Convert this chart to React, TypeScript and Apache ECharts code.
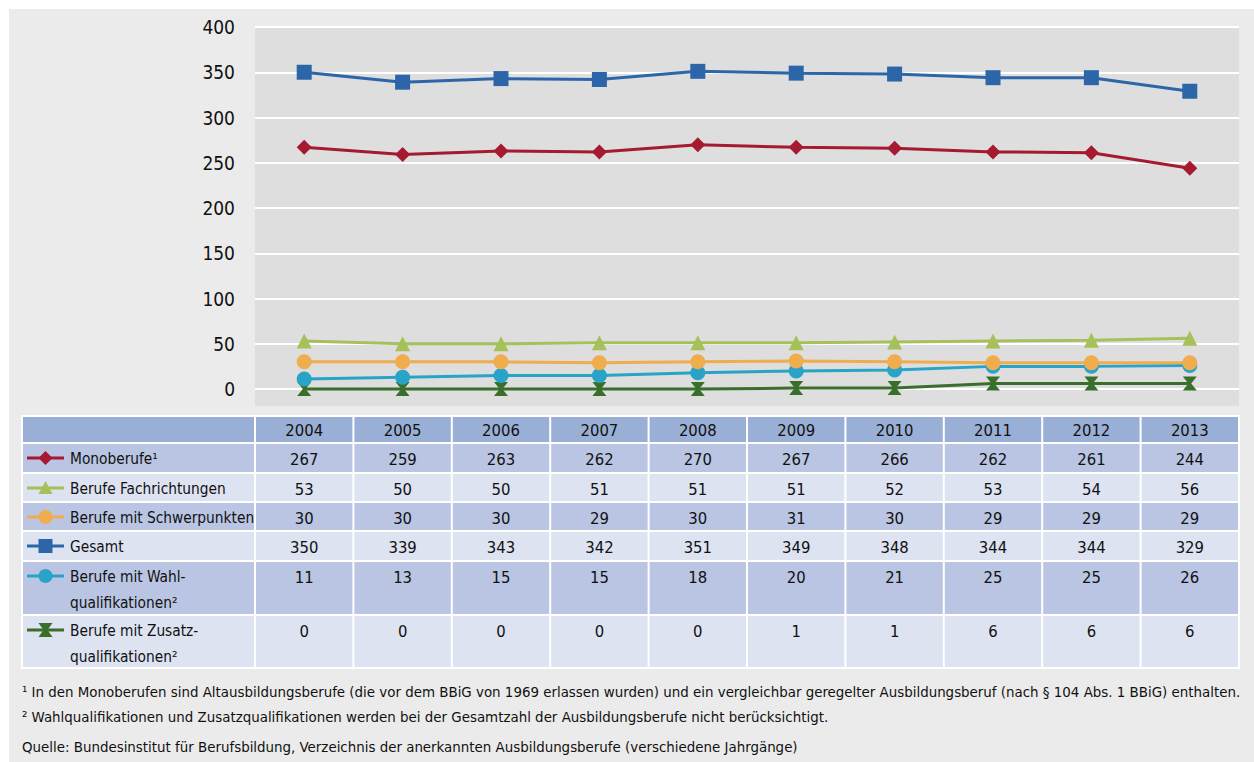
import React, { useEffect, useRef } from "react";
import * as echarts from "echarts";

const years = ["2004", "2005", "2006", "2007", "2008", "2009", "2010", "2011", "2012", "2013"];
const monoberufe = [267, 259, 263, 262, 270, 267, 266, 262, 261, 244];
const fachrichtungen = [53, 50, 50, 51, 51, 51, 52, 53, 54, 56];
const schwerpunkte = [30, 30, 30, 29, 30, 31, 30, 29, 29, 29];
const gesamt = [350, 339, 343, 342, 351, 349, 348, 344, 344, 329];
const wahlqual = [11, 13, 15, 15, 18, 20, 21, 25, 25, 26];
const zusatzqual = [0, 0, 0, 0, 0, 1, 1, 6, 6, 6];
const yTicks = [0, 50, 100, 150, 200, 250, 300, 350, 400];

const footnotes = [
  "¹ In den Monoberufen sind Altausbildungsberufe (die vor dem BBiG von 1969 erlassen wurden) und ein vergleichbar geregelter Ausbildungsberuf (nach § 104 Abs. 1 BBiG) enthalten.",
  "² Wahlqualifikationen und Zusatzqualifikationen werden bei der Gesamtzahl der Ausbildungsberufe nicht berücksichtigt.",
  "Quelle: Bundesinstitut für Berufsbildung, Verzeichnis der anerkannten Ausbildungsberufe (verschiedene Jahrgänge)",
];

const HOURGLASS = "path://M0,0 L10,0 L6,5 L10,10 L0,10 L4,5 Z";
const FONT = '"Liberation Sans Narrow", "DejaVu Sans Condensed", "Liberation Sans", sans-serif';

type Def = { name: string; lines: string[]; data: number[]; color: string; symbol: string; size: number; key: string };

const defs: Def[] = [
  { name: "Monoberufe", lines: ["Monoberufe¹"], data: monoberufe, color: "#a51a30", symbol: "diamond", size: 15, key: "diamond" },
  { name: "Berufe Fachrichtungen", lines: ["Berufe Fachrichtungen"], data: fachrichtungen, color: "#a6c05a", symbol: "triangle", size: 15, key: "triangle" },
  { name: "Berufe mit Schwerpunkten", lines: ["Berufe mit Schwerpunkten"], data: schwerpunkte, color: "#f0ad4e", symbol: "circle", size: 15, key: "circle" },
  { name: "Gesamt", lines: ["Gesamt"], data: gesamt, color: "#2c66a8", symbol: "rect", size: 15, key: "rect" },
  { name: "Berufe mit Wahlqualifikationen", lines: ["Berufe mit Wahl-", "qualifikationen²"], data: wahlqual, color: "#2aa3c9", symbol: "circle", size: 15, key: "circle" },
  { name: "Berufe mit Zusatzqualifikationen", lines: ["Berufe mit Zusatz-", "qualifikationen²"], data: zusatzqual, color: "#3a6e2b", symbol: HOURGLASS, size: 14, key: "hourglass" },
];
const drawOrder = [5, 4, 2, 1, 0, 3];

const rowTops = [416, 443, 473, 502, 531, 561, 615, 668];

function keyShape(kind: string, cx: number, cy: number, color: string): any {
  const s = 7;
  if (kind === "diamond") return { type: "polygon", shape: { points: [[cx, cy - s], [cx + s, cy], [cx, cy + s], [cx - s, cy]] }, style: { fill: color } };
  if (kind === "triangle") return { type: "polygon", shape: { points: [[cx, cy - s], [cx + s, cy + s - 1], [cx - s, cy + s - 1]] }, style: { fill: color } };
  if (kind === "circle") return { type: "circle", shape: { cx, cy, r: s }, style: { fill: color } };
  if (kind === "rect") return { type: "rect", shape: { x: cx - s, y: cy - s, width: 2 * s, height: 2 * s }, style: { fill: color } };
  return { type: "polygon", shape: { points: [[cx - s, cy - s], [cx + s, cy - s], [cx + 2, cy], [cx + s, cy + s], [cx - s, cy + s], [cx - 2, cy]] }, style: { fill: color } };
}

export default function App() {
  const ref = useRef<HTMLDivElement>(null);
  useEffect(() => {
    if (!ref.current) return;
    const chart = echarts.init(ref.current, null, { renderer: "svg" });
    const option: any = {
      animation: false,
      backgroundColor: "#ffffff",
      grid: { left: 255, right: 15, top: 27, bottom: 373 },
      xAxis: {
        type: "category",
        data: years,
        boundaryGap: true,
        axisLine: { show: false },
        axisTick: { show: false },
        axisLabel: { show: false },
      },
      yAxis: {
        type: "value",
        min: 0,
        max: 400,
        interval: 50,
        axisLine: { show: false },
        axisTick: { show: false },
        axisLabel: { fontSize: 19, color: "#111111", fontFamily: FONT, margin: 20, formatter: (v: number) => (yTicks.includes(v) ? String(v) : "") },
        splitLine: { lineStyle: { color: "#ffffff", width: 2 } },
        z: 2,
      },
      series: drawOrder.map((i) => {
        const d = defs[i];
        return {
          name: d.name,
          type: "line",
          data: d.data,
          symbol: d.symbol,
          symbolSize: d.size,
          showSymbol: true,
          clip: false,
          lineStyle: { color: d.color, width: 3 },
          itemStyle: { color: d.color },
          z: 3,
        };
      }),
    };
    chart.setOption(option);

    const xs = years.map((_, i) => chart.convertToPixel({ xAxisIndex: 0 }, i) as number);
    const colW = xs[1] - xs[0];
    const tableLeft = 22;
    const labelRight = xs[0] - colW / 2;
    const tableRight = xs[xs.length - 1] + colW / 2;
    const g: any[] = [];
    g.push({ type: "rect", z: -10, silent: true, shape: { x: 9, y: 9, width: 1245, height: 753 }, style: { fill: "#ebebeb" } });
    g.push({ type: "rect", z: -9, silent: true, shape: { x: labelRight, y: 27, width: tableRight - labelRight, height: 379 }, style: { fill: "#dedede" } });
    g.push({ type: "rect", z: -8, silent: true, shape: { x: tableLeft - 1, y: rowTops[0] - 1, width: tableRight - tableLeft + 2, height: rowTops[rowTops.length - 1] - rowTops[0] + 2 }, style: { fill: "#ffffff" } });

    const colEdges = [tableLeft, ...xs.map((x) => x - colW / 2), tableRight];
    for (let r = 0; r < rowTops.length - 1; r++) {
      const fill = r === 0 ? "#9aafd5" : r % 2 === 1 ? "#b9c5e2" : "#dde3f1";
      for (let c = 0; c < colEdges.length - 1; c++) {
        g.push({
          type: "rect",
          z: -7,
          silent: true,
          shape: { x: colEdges[c] + 1, y: rowTops[r] + 1, width: colEdges[c + 1] - colEdges[c] - 2, height: rowTops[r + 1] - rowTops[r] - 2 },
          style: { fill },
        });
      }
    }
    years.forEach((y, i) => {
      g.push({ type: "text", z: 5, x: xs[i], y: (rowTops[0] + rowTops[1]) / 2 + 1, style: { text: y, fill: "#111111", fontSize: 16.5, fontFamily: FONT, textAlign: "center", textVerticalAlign: "middle" } });
    });
    defs.forEach((d, r) => {
      const top = rowTops[r + 1];
      const cy = top + 15;
      g.push({ type: "line", z: 5, shape: { x1: 27, y1: cy, x2: 64, y2: cy }, style: { stroke: d.color, lineWidth: 3 } });
      g.push({ ...keyShape(d.key, 45.5, cy, d.color), z: 6 });
      d.lines.forEach((ln, k) => {
        g.push({ type: "text", z: 5, x: 70, y: cy + 1 + k * 26, style: { text: ln, fill: "#111111", fontSize: 15.3, fontFamily: FONT, textAlign: "left", textVerticalAlign: "middle" } });
      });
      d.data.forEach((v, i) => {
        g.push({ type: "text", z: 5, x: xs[i], y: cy + 1, style: { text: String(v), fill: "#111111", fontSize: 16.5, fontFamily: FONT, textAlign: "center", textVerticalAlign: "middle" } });
      });
    });
    const fy = [692, 717, 747];
    footnotes.forEach((t, i) => {
      g.push({ type: "text", z: 5, x: 22, y: fy[i], style: { text: t, fill: "#111111", fontSize: 14.9, fontFamily: FONT, textAlign: "left", textVerticalAlign: "middle" } });
    });
    chart.setOption({ graphic: g });
    return () => chart.dispose();
  }, []);
  return <div ref={ref} style={{ position: "fixed", left: 0, top: 0, width: 1254, height: 762 }} />;
}
